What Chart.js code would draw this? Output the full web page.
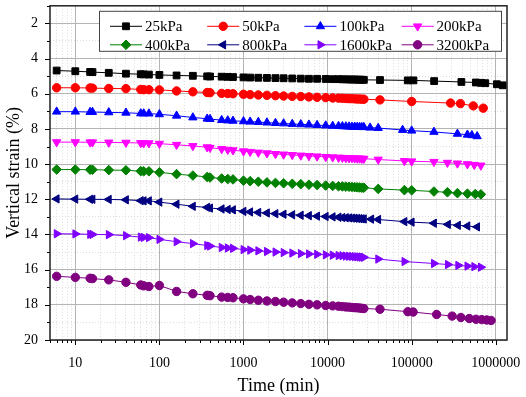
<!DOCTYPE html>
<html lang="en">
<head>
<meta charset="utf-8">
<title>Vertical strain - time</title>
<script src="https://cdn.jsdelivr.net/npm/chart.js@4.4.1/dist/chart.umd.min.js"></script>
<style>
body { margin: 0; background: #fff; }
#box { width: 526px; height: 397px; position: relative; }
</style>
</head>
<body>
<div id="box"><canvas id="c"></canvas></div>
<script>
// readings shared by all load steps (min)
const earlyTimes = [6, 10, 15, 16, 25, 40, 60, 65, 75, 100, 160, 250, 370, 400, 550, 650, 750,
  1000, 1200, 1500, 1900, 2400, 3000, 3800, 4800, 6000, 7500, 9500, 11500, 13500, 15000,
  16500, 18000, 19500, 21000, 22500, 24000, 25500, 27000];

// late readings, different per load step
const tail25 = [42000, 90000, 105000, 185000, 390000, 580000, 670000, 750000, 1030000, 1210000];
const tail50 = [42000, 100000, 290000, 380000, 540000, 710000];
const tail100 = [32000, 40000, 78000, 100000, 184000, 350000, 460000, 520000, 600000];
const tail200 = [40000, 82000, 100000, 184000, 266000, 350000, 460000, 555000, 665000];
const tail400 = [40000, 82000, 100000, 184000, 266000, 350000, 460000, 570000, 665000];
const tail800 = [33000, 40000, 82000, 100000, 184000, 270000, 355000, 460000, 600000];
const tail1600 = [40000, 82000, 184000, 270000, 358000, 460000, 555000, 665000];
const tail3200 = [42000, 90000, 104000, 198000, 303000, 385000, 484000, 582000, 681000, 781000, 880000];

// vertical strain (%)
const strain25 = [4.68, 4.72, 4.76, 4.77, 4.81, 4.86, 4.89, 4.90, 4.91, 4.93, 4.96, 4.98, 5.01, 5.02, 5.03,
  5.04, 5.05, 5.07, 5.08, 5.09, 5.10, 5.11, 5.12, 5.13, 5.14, 5.15, 5.15, 5.16, 5.17, 5.17,
  5.18, 5.18, 5.19, 5.19, 5.19, 5.20, 5.20, 5.20, 5.21,
  5.22, 5.24, 5.24, 5.28, 5.33, 5.36, 5.38, 5.40, 5.46, 5.52];
const strain50 = [5.66, 5.66, 5.67, 5.68, 5.70, 5.71, 5.76, 5.77, 5.77, 5.78, 5.84, 5.89, 5.93, 5.94, 5.98,
  5.99, 6.00, 6.03, 6.05, 6.07, 6.09, 6.11, 6.13, 6.15, 6.16, 6.18, 6.20, 6.22, 6.24, 6.25,
  6.26, 6.27, 6.28, 6.28, 6.29, 6.30, 6.30, 6.31, 6.31,
  6.35, 6.44, 6.53, 6.56, 6.69, 6.82];
const strain100 = [7.02, 7.02, 7.04, 7.04, 7.06, 7.08, 7.12, 7.12, 7.13, 7.17, 7.25, 7.35, 7.42, 7.44, 7.50,
  7.52, 7.54, 7.57, 7.59, 7.61, 7.64, 7.67, 7.69, 7.72, 7.74, 7.76, 7.78, 7.81, 7.83, 7.84,
  7.85, 7.86, 7.87, 7.88, 7.88, 7.89, 7.89, 7.90, 7.90,
  7.93, 7.95, 8.06, 8.10, 8.17, 8.28, 8.33, 8.36, 8.42];
const strain200 = [8.75, 8.75, 8.76, 8.76, 8.77, 8.78, 8.80, 8.81, 8.81, 8.84, 8.90, 8.97, 9.04, 9.07, 9.14,
  9.18, 9.21, 9.27, 9.30, 9.34, 9.38, 9.42, 9.45, 9.48, 9.51, 9.54, 9.56, 9.59, 9.61, 9.63,
  9.64, 9.65, 9.66, 9.66, 9.67, 9.68, 9.68, 9.69, 9.69,
  9.74, 9.82, 9.84, 9.87, 9.92, 9.96, 10.00, 10.04, 10.08];
const strain400 = [10.31, 10.31, 10.32, 10.32, 10.34, 10.35, 10.40, 10.41, 10.41, 10.47, 10.57, 10.65, 10.73, 10.76, 10.82,
  10.85, 10.87, 10.94, 10.97, 11.00, 11.04, 11.07, 11.09, 11.12, 11.14, 11.17, 11.19, 11.22, 11.24, 11.26,
  11.27, 11.28, 11.29, 11.30, 11.31, 11.32, 11.33, 11.34, 11.34,
  11.41, 11.48, 11.49, 11.56, 11.60, 11.65, 11.68, 11.70, 11.72];
const strain800 = [11.98, 11.99, 12.00, 12.00, 12.01, 12.03, 12.08, 12.09, 12.09, 12.16, 12.28, 12.40, 12.46, 12.50, 12.55,
  12.58, 12.60, 12.69, 12.72, 12.75, 12.78, 12.82, 12.85, 12.88, 12.91, 12.93, 12.96, 12.98, 13.00, 13.02,
  13.04, 13.05, 13.06, 13.07, 13.08, 13.09, 13.10, 13.11, 13.12,
  13.13, 13.15, 13.27, 13.30, 13.36, 13.43, 13.48, 13.52, 13.57];
const strain1600 = [13.96, 13.97, 13.99, 14.00, 14.01, 14.07, 14.15, 14.17, 14.18, 14.28, 14.41, 14.52, 14.63, 14.66, 14.74,
  14.77, 14.79, 14.86, 14.89, 14.93, 14.97, 15.00, 15.03, 15.06, 15.09, 15.11, 15.13, 15.16, 15.18, 15.20,
  15.21, 15.23, 15.24, 15.25, 15.26, 15.27, 15.28, 15.29, 15.30,
  15.40, 15.54, 15.65, 15.71, 15.76, 15.80, 15.83, 15.86];
const strain3200 = [16.38, 16.44, 16.49, 16.51, 16.58, 16.72, 16.87, 16.92, 16.96, 16.90, 17.24, 17.37, 17.46, 17.48, 17.56,
  17.58, 17.60, 17.66, 17.70, 17.74, 17.78, 17.81, 17.85, 17.89, 17.93, 17.97, 18.00, 18.04, 18.06, 18.08,
  18.10, 18.12, 18.13, 18.15, 18.16, 18.17, 18.18, 18.20, 18.21,
  18.25, 18.39, 18.41, 18.55, 18.64, 18.72, 18.78, 18.82, 18.84, 18.86, 18.89];

const xTickValues = [];
for (let e = 0; e <= 6; e++) {
  for (let m = 1; m <= 9; m++) xTickValues.push(m * Math.pow(10, e));
}
const yTickValues = [1, 2, 3, 4, 5, 6, 7, 8, 9, 10, 11, 12, 13, 14, 15, 16, 17, 18, 19, 20];

const FONT = "'Liberation Serif', 'Times New Roman', serif";

function isDecade(v) {
  const l = Math.log10(v);
  return Math.abs(l - Math.round(l)) < 1e-9;
}
function serie(label, tail, values, color, style, rotation, radius) {
  const t = earlyTimes.concat(tail);
  return {
    label: label,
    data: t.map((x, i) => ({x: x, y: values[i]})),
    borderColor: color,
    backgroundColor: color,
    borderWidth: 1,
    pointStyle: style,
    pointRotation: rotation,
    pointRadius: radius,
    pointBorderWidth: 1,
    pointBackgroundColor: color,
    pointBorderColor: color
  };
}

// ticks, cadre et legende dessines a la main
const decor = {
  id: 'decor',
  afterDraw(chart) {
    const ctx = chart.ctx, a = chart.chartArea, sx = chart.scales.x, sy = chart.scales.y;
    ctx.save();
    ctx.strokeStyle = '#000';
    ctx.lineWidth = 1;
    sx.ticks.forEach(t => {
      if (t.value < sx.min || t.value > sx.max) return;
      const px = Math.round(sx.getPixelForValue(t.value)) + 0.5;
      ctx.beginPath();
      ctx.moveTo(px, a.bottom);
      ctx.lineTo(px, a.bottom + (isDecade(t.value) ? 5 : 3));
      ctx.stroke();
    });
    sy.ticks.forEach(t => {
      const py = Math.round(sy.getPixelForValue(t.value)) + 0.5;
      ctx.beginPath();
      ctx.moveTo(a.left, py);
      ctx.lineTo(a.left - (t.value % 2 === 0 ? 5 : 3), py);
      ctx.stroke();
    });
    ctx.lineWidth = 1.5;
    ctx.strokeStyle = '#222';
    ctx.strokeRect(a.left, a.top, a.right - a.left, a.bottom - a.top);

    // legende
    const bx = a.left + 49.5, by = a.top + 5.5, bw = 402, bh = 40;
    ctx.fillStyle = '#fff';
    ctx.fillRect(bx, by, bw, bh);
    ctx.lineWidth = 1;
    ctx.strokeStyle = '#444';
    ctx.strokeRect(bx, by, bw, bh);
    ctx.font = '15px ' + FONT;
    ctx.textBaseline = 'middle';
    ctx.textAlign = 'left';
    chart.data.datasets.forEach((ds, i) => {
      const col = i % 4, row = Math.floor(i / 4);
      const x0 = bx + 10.5 + col * 97.2, y0 = by + 15 + row * 18.5;
      ctx.strokeStyle = ds.borderColor;
      ctx.fillStyle = ds.borderColor;
      ctx.lineWidth = 1;
      ctx.beginPath();
      ctx.moveTo(x0, y0);
      ctx.lineTo(x0 + 32, y0);
      ctx.stroke();
      Chart.helpers.drawPoint(ctx, {
        pointStyle: ds.pointStyle, rotation: ds.pointRotation,
        radius: ds.pointRadius, borderWidth: 1
      }, x0 + 16, y0);
      ctx.fillStyle = '#000';
      ctx.fillText(ds.label, x0 + 35, y0 + 1);
    });
    ctx.restore();
  }
};

new Chart(document.getElementById('c'), {
  type: 'line',
  data: {
    datasets: [
      serie('25kPa', tail25, strain25, '#000000', 'rect', 0, 4.8),
      serie('50kPa', tail50, strain50, '#ff0000', 'circle', 0, 4.2),
      serie('100kPa', tail100, strain100, '#0000ff', 'triangle', 0, 4.8),
      serie('200kPa', tail200, strain200, '#ff00ff', 'triangle', 180, 4.8),
      serie('400kPa', tail400, strain400, '#008000', 'rectRot', 0, 4.8),
      serie('800kPa', tail800, strain800, '#000080', 'triangle', 270, 4.8),
      serie('1600kPa', tail1600, strain1600, '#8000ff', 'triangle', 90, 4.8),
      serie('3200kPa', tail3200, strain3200, '#800080', 'circle', 0, 4.2)
    ]
  },
  options: {
    responsive: true,
    maintainAspectRatio: false,
    animation: false,
    layout: { padding: { left: 0, right: 19, top: 2, bottom: 0 } },
    plugins: {
      legend: { display: false },
      tooltip: { enabled: false }
    },
    scales: {
      x: {
        type: 'logarithmic',
        min: 5,
        max: 1360000,
        afterBuildTicks: s => { s.ticks = xTickValues.filter(v => v >= s.min && v <= s.max).map(v => ({value: v})); },
        afterFit: s => { s.height = 57; s.paddingLeft = 0; s.paddingRight = 0; },
        ticks: {
          autoSkip: false,
          maxRotation: 0,
          padding: 15,
          color: '#000',
          font: { family: FONT, size: 14 },
          callback: v => (isDecade(v) ? String(v) : '')
        },
        grid: {
          drawTicks: false,
          color: c => (c.tick && isDecade(c.tick.value) ? '#b4b4b4' : '#dcdcdc'),
          lineWidth: 1
        },
        border: {
          display: false,
          dash: c => (c.tick && !isDecade(c.tick.value) ? [1, 2] : [])
        },
        title: {
          display: true,
          text: 'Time (min)',
          color: '#000',
          font: { family: FONT, size: 18 },
          padding: { top: 0, bottom: 0 }
        }
      },
      y: {
        type: 'linear',
        reverse: true,
        min: 1,
        max: 20,
        afterBuildTicks: s => { s.ticks = yTickValues.map(v => ({value: v})); },
        afterFit: s => { s.width = 50; s.paddingTop = 0; s.paddingBottom = 0; },
        ticks: {
          autoSkip: false,
          padding: 12,
          color: '#000',
          font: { family: FONT, size: 14 },
          callback: v => (v % 2 === 0 ? String(v) : '')
        },
        grid: {
          drawTicks: false,
          color: c => (c.tick && c.tick.value % 2 === 0 ? '#b4b4b4' : '#dcdcdc'),
          lineWidth: 1
        },
        border: {
          display: false,
          dash: c => (c.tick && c.tick.value % 2 !== 0 ? [1, 2] : [])
        },
        title: {
          display: true,
          text: 'Vertical strain (%)',
          color: '#000',
          font: { family: FONT, size: 18 },
          padding: { top: 3, bottom: 0 }
        }
      }
    }
  },
  plugins: [decor]
});
</script>
</body>
</html>
